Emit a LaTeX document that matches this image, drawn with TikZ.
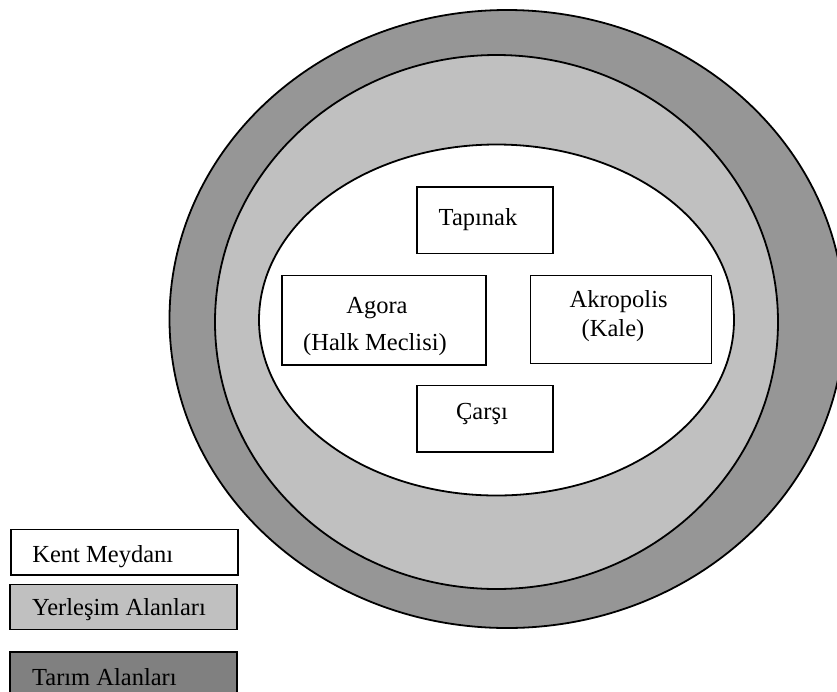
\documentclass[tikz,border=0pt]{standalone}
\usepackage{fontspec}
\setmainfont{Liberation Serif}
\definecolor{ringdark}{RGB}{150,150,150}
\definecolor{ringlight}{RGB}{192,192,192}
\definecolor{legdark}{RGB}{128,128,128}
\begin{document}
\begin{tikzpicture}[x=0.5pt,y=-0.5pt,
  zone/.style={draw=black,line width=0.9pt},
  boxnode/.style={draw=black,line width=0.75pt,fill=white,rectangle,inner sep=0pt},
  legbox/.style={draw=black,line width=0.8pt,rectangle,inner sep=0pt,minimum width=113.5pt},
  lbl/.style={inner sep=0pt,anchor=base,font=\fontsize{12.25}{14}\selectfont},
  leglbl/.style={inner sep=0pt,anchor=base west,font=\fontsize{12.25}{14}\selectfont}]
\useasboundingbox (0,0) rectangle (837,692);
\begin{scope}
\clip (0,0) rectangle (837,692);
% rings
\draw[zone,fill=ringdark] (507,319) ellipse [x radius=337.5, y radius=309];
\draw[zone,fill=ringlight] (496.5,322) ellipse [x radius=281.5, y radius=267];
\draw[zone,fill=white] (496.5,320) ellipse [x radius=237.5, y radius=175.5];
% buildings
\node[boxnode,minimum width=68pt,minimum height=33.25pt] (tapinak) at (485,220.3) {};
\node[boxnode,minimum width=102pt,minimum height=44.75pt] (agora) at (384,320.2) {};
\node[boxnode,minimum width=90.5pt,minimum height=44pt] (akropolis) at (621,319.5) {};
\node[boxnode,minimum width=68pt,minimum height=33.25pt] (carsi) at (485,418.8) {};
\node[lbl] (tapinakT) at (478,225) {Tapınak};
\node[lbl] (agoraT1) at (377,313.3) {Agora};
\node[lbl] (agoraT2) at (375,350) {(Halk Meclisi)};
\node[lbl] (akroT1) at (618.6,307.4) {Akropolis};
\node[lbl] (akroT2) at (613,336) {(Kale)};
\node[lbl] (carsiT) at (482,419.7) {Çarşı};
% legend
\node[legbox,fill=white,minimum height=22.85pt] (kent) at (124.7,552.15) {};
\node[legbox,fill=ringlight,minimum height=22.5pt] (yerlesim) at (123.5,606.8) {};
\node[legbox,fill=legdark,minimum height=25pt] (tarim) at (123.5,676.7) {};
\node[leglbl] (kentT) at (32,562.7) {Kent Meydanı};
\node[leglbl] (yerlesimT) at (31.7,615) {Yerleşim Alanları};
\node[leglbl] (tarimT) at (31.7,685) {Tarım Alanları};
\end{scope}
\end{tikzpicture}
\end{document}
